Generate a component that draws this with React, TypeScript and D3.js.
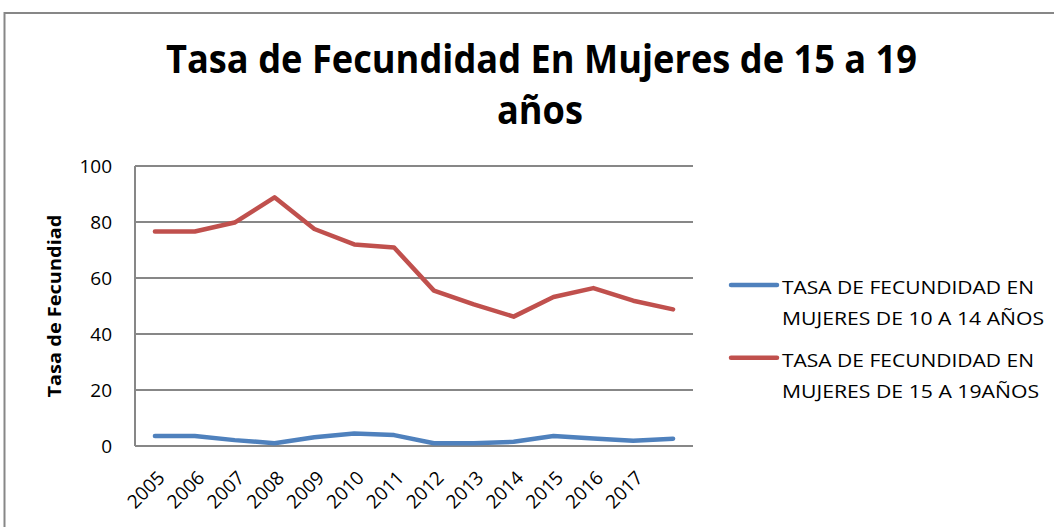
import * as d3 from "d3";

// categories on the x axis (the last point has no label in the original)
const categories = ["2005", "2006", "2007", "2008", "2009", "2010", "2011", "2012", "2013", "2014", "2015", "2016", "2017", ""];

const tasa10a14 = [3.6, 3.6, 2.1, 1.0, 3.1, 4.5, 3.9, 1.0, 1.0, 1.5, 3.6, 2.7, 1.9, 2.6];
const tasa15a19 = [76.6, 76.6, 79.8, 88.8, 77.5, 72.0, 70.9, 55.5, 50.6, 46.2, 53.2, 56.4, 51.9, 48.8];

const yTicks = [0, 20, 40, 60, 80, 100];

const series = [
  { name: ["TASA DE FECUNDIDAD EN", "MUJERES DE 10 A 14 AÑOS"], widths: [252, 262], values: tasa10a14, color: "#4F81BD" },
  { name: ["TASA DE FECUNDIDAD EN", "MUJERES DE 15 A 19AÑOS"], widths: [252, 257], values: tasa15a19, color: "#C0504D" },
];

const W = 1054;
const H = 527;
const plot = { left: 135, right: 693, top: 166, bottom: 446 };
const font = "Open Sans, Liberation Sans, sans-serif";
const grey = "#878787";

export default function App() {
  const x = d3
    .scaleBand<number>()
    .domain(d3.range(categories.length))
    .range([plot.left, plot.right]);
  const y = d3.scaleLinear().domain([0, 100]).range([plot.bottom, plot.top]);
  const cx = (i: number) => (x(i) ?? 0) + x.bandwidth() / 2;

  const line = d3
    .line<number>()
    .x((_, i) => cx(i))
    .y((d) => y(d));

  return (
    <svg
      width={W}
      height={H}
      style={{ position: "absolute", left: 0, top: 0, background: "#fff" }}
      fontFamily={font}
    >
      {/* chart border, cut off at right and bottom */}
      <path d={`M4.5,${H} V13 H${W}`} fill="none" stroke={grey} strokeWidth={2} />

      <text
        x={541.5}
        y={73}
        textAnchor="middle"
        fontSize={40}
        fontWeight="bold"
        fill="#000"
        textLength={751}
        lengthAdjust="spacingAndGlyphs"
      >
        Tasa de Fecundidad En Mujeres de 15 a 19
      </text>
      <text
        x={540}
        y={124}
        textAnchor="middle"
        fontSize={40}
        fontWeight="bold"
        fill="#000"
        textLength={86}
        lengthAdjust="spacingAndGlyphs"
      >
        años
      </text>

      {/* gridlines */}
      {yTicks.map((t) => (
        <line key={t} x1={plot.left} x2={plot.right} y1={y(t)} y2={y(t)} stroke={grey} strokeWidth={2} />
      ))}
      <line x1={plot.left} x2={plot.left} y1={plot.top} y2={plot.bottom} stroke={grey} strokeWidth={2} />

      {/* y labels */}
      {yTicks.map((t) => (
        <text key={t} x={112} y={y(t)} dy="0.36em" textAnchor="end" fontSize={19} fill="#000">
          {t}
        </text>
      ))}
      <text
        transform={`translate(61,${306}) rotate(-90)`}
        textAnchor="middle"
        fontSize={17}
        fontWeight="bold"
        fill="#000"
        textLength={183}
        lengthAdjust="spacingAndGlyphs"
      >
        Tasa de Fecundiad
      </text>

      {/* x labels */}
      {categories.map((c, i) => (
        <text
          key={i}
          transform={`translate(${cx(i) + 11},${plot.bottom + 33}) rotate(-45)`}
          textAnchor="end"
          fontSize={19}
          fill="#000"
        >
          {c}
        </text>
      ))}

      {/* lines */}
      {series.map((s) => (
        <path
          key={s.color}
          d={line(s.values) ?? ""}
          fill="none"
          stroke={s.color}
          strokeWidth={4.5}
          strokeLinejoin="round"
          strokeLinecap="round"
        />
      ))}

      {/* legend */}
      {series.map((s, k) => {
        const ly = 285 + k * 72.7;
        return (
          <g key={k}>
            <line x1={731} x2={777} y1={ly} y2={ly} stroke={s.color} strokeWidth={4.5} strokeLinecap="round" />
            {s.name.map((n, j) => (
              <text
                key={j}
                x={782}
                y={ly + 9 + j * 31}
                fontSize={19}
                fill="#000"
                textLength={s.widths[j]}
                lengthAdjust="spacingAndGlyphs"
              >
                {n}
              </text>
            ))}
          </g>
        );
      })}
    </svg>
  );
}
